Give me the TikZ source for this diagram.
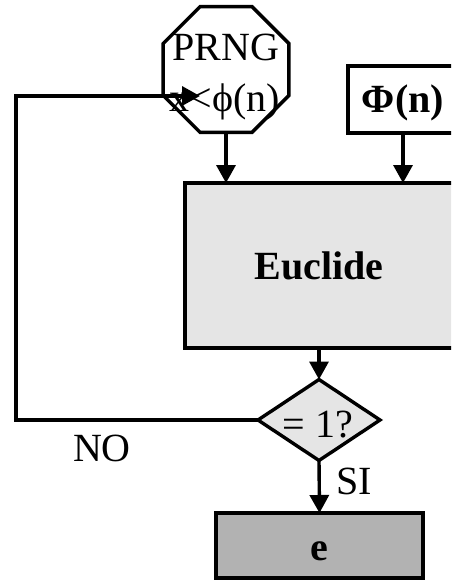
\documentclass[tikz,border=0pt]{standalone}
\usepackage{fontspec}
\setmainfont{Liberation Serif}
\usetikzlibrary{shapes.geometric,arrows.meta}
\begin{document}
\begin{tikzpicture}[x=1pt,y=-1pt,line width=3.4pt,
  big/.style={font=\fontsize{40}{44}\selectfont,inner sep=0pt,outer sep=0pt},
  arr/.style={-{Triangle[length=18pt,width=19pt]}},
  box/.style={draw,rectangle,inner sep=0pt,outer sep=0pt}]
\useasboundingbox (0,0) rectangle (451,580);
\clip (0,0) rectangle (451,580);
% octagon
\node[draw,regular polygon,regular polygon sides=8,minimum size=136pt,inner sep=0pt,outer sep=0pt] (oct) at (226,69.5) {};
\node[big,anchor=base] (prng) at (226,61) {PRNG};
\node[big,anchor=base] (xphi) at (225,112) {x<ϕ(n)};
% Phi box
\node[box,minimum width=130pt,minimum height=67pt] (phibox) at (413,99.5) {};
\node[big,anchor=base,font=\fontsize{40}{44}\selectfont\bfseries] (phitext) at (403,113) {Φ(n)};
% Euclide
\node[box,fill=black!10,minimum width=300pt,minimum height=165pt] (euc) at (335,265.5) {};
\node[big,anchor=base,font=\fontsize{40}{44}\selectfont\bfseries] (euctext) at (319,279) {Euclide};
% diamond
\node[draw,diamond,fill=black!10,minimum width=122pt,minimum height=81pt,inner sep=0pt,outer sep=0pt] (dia) at (319,420) {};
\node[big,anchor=base] (diatext) at (318,437) {= 1?};
% e box
\node[box,fill=black!30,minimum width=207pt,minimum height=65pt] (ebox) at (319.5,545.5) {};
\node[big,anchor=base,font=\fontsize{40}{44}\selectfont\bfseries] (etext) at (319,560) {e};
% labels
\node[big,anchor=base] (no) at (102,461) {NO};
\node[big,anchor=base west] (si) at (336,494) {SI};
% connectors
\coordinate (fb) at (200,96);
\draw[arr] (oct.south) -- (oct.south |- euc.north);
\draw[arr] (phibox.south -| phitext) -- (phitext |- euc.north);
\draw[arr] (euc.south -| dia.north) -- (dia.north);
\draw[arr] (dia.south) -- (ebox.north);
\draw[arr] (dia.west) -- (16,420) |- (fb);
\end{tikzpicture}
\end{document}
